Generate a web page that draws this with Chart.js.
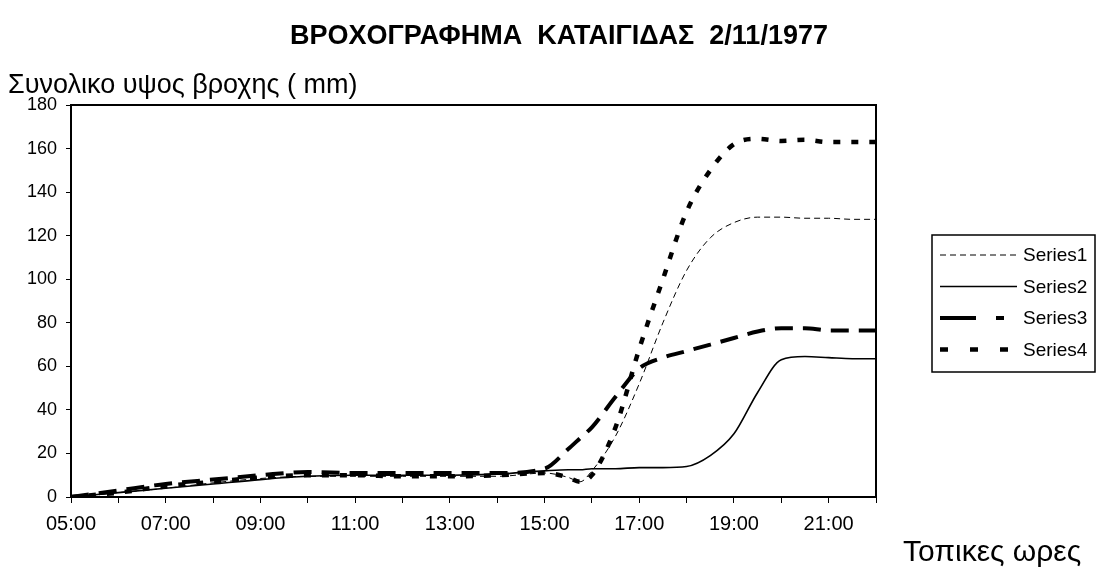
<!DOCTYPE html>
<html>
<head>
<meta charset="utf-8">
<script src="https://cdn.jsdelivr.net/npm/chart.js@4.4.0/dist/chart.umd.min.js"></script>
<style>
    body { margin: 0; background: #fff; }
    #wrap { width: 1097px; height: 574px; }
</style>
</head>
<body>
<div id="wrap"><canvas id="rain" width="1097" height="574"></canvas></div>
<script>
// time in hours (05:00 .. 22:00)
const hours = [5, 6, 7, 8, 9, 10, 11, 12, 13, 14, 15, 15.5, 15.75, 16, 16.5, 17, 17.5, 18, 18.5, 19, 19.5, 20, 20.5, 21, 21.5, 22];

const series1 = [0, 2, 4, 6.5, 8.5, 9.5, 9.5, 9.5, 9.5, 9.5, 11, 9, 7, 12, 28, 52, 80, 104, 119, 126, 128.5, 128.5, 128, 128, 127.5, 127.5];
const series2 = [0, 2, 4, 6, 8, 9.5, 10, 10, 10, 10.5, 12, 12.5, 12.5, 13, 13, 13.5, 13.5, 14, 19, 29, 48, 63, 64.5, 64, 63.5, 63.5];
const series3 = [0, 3, 6, 8, 10, 11.5, 11, 11, 11, 11, 13, 22, 27, 32, 46, 59, 64, 67, 70, 73, 76, 77.5, 77.5, 76.5, 76.5, 76.5];
const series4 = [0, 2, 5, 7, 9, 10, 10, 9.5, 9.5, 10, 11, 9, 7, 10, 32, 68, 100, 131, 150, 162, 164.5, 163.5, 164, 163, 163, 163];

const seriesNames = ['Series1', 'Series2', 'Series3', 'Series4'];
const yTicks = [0, 20, 40, 60, 80, 100, 120, 140, 160, 180];

const titleText = 'ΒΡΟΧΟΓΡΑΦΗΜΑ  ΚΑΤΑΙΓΙΔΑΣ  2/11/1977';
const yLabel = 'Συνολικο υψος βροχης ( mm)';
const xLabel = 'Τοπικες ωρες';

function pts(vals) {
    return hours.map((h, i) => ({x: h, y: vals[i]}));
}

function hh(v) {
    return (v < 10 ? '0' : '') + v + ':00';
}

const styles = [
    {width: 1, dash: [6, 4], legendDash: [6, 4]},
    {width: 1.6, dash: [], legendDash: []},
    {width: 4, dash: [18, 10], legendDash: [36, 20, 8, 40]},
    {width: 4.5, dash: [7, 11], legendDash: [8, 22]}
];

const allSeries = [series1, series2, series3, series4];
const datasets = allSeries.map((s, i) => ({
    label: seriesNames[i],
    data: pts(s),
    borderColor: '#000',
    borderWidth: styles[i].width,
    borderDash: styles[i].dash,
    pointRadius: 0,
    fill: false,
    cubicInterpolationMode: 'monotone'
}));

const FONT = '"Liberation Sans", Arial, sans-serif';

const extras = {
    id: 'extras',
    afterDraw(chart) {
        const ctx = chart.ctx;
        const a = chart.chartArea;
        ctx.save();
        // frame top + right
        ctx.strokeStyle = '#000';
        ctx.lineWidth = 2;
        ctx.setLineDash([]);
        ctx.beginPath();
        ctx.moveTo(a.left, a.top);
        ctx.lineTo(a.right, a.top);
        ctx.lineTo(a.right, a.bottom);
        ctx.stroke();

        ctx.fillStyle = '#000';
        ctx.font = 'bold 27px ' + FONT;
        ctx.textAlign = 'center';
        ctx.textBaseline = 'middle';
        ctx.fillText(titleText, 559, 37);

        ctx.font = '27px ' + FONT;
        ctx.textAlign = 'left';
        ctx.fillText(yLabel, 8, 86);
        ctx.font = '30px ' + FONT;
        ctx.fillText(xLabel, 903, 553);

        // legend
        ctx.lineWidth = 1.5;
        ctx.strokeRect(932, 235, 163, 137);
        ctx.font = '19px ' + FONT;
        for (let i = 0; i < 4; i++) {
            const y = 255 + i * 31.5;
            ctx.beginPath();
            ctx.lineWidth = styles[i].width;
            ctx.setLineDash(styles[i].legendDash);
            ctx.moveTo(940, y);
            ctx.lineTo(1017, y);
            ctx.stroke();
            ctx.setLineDash([]);
            ctx.fillText(seriesNames[i], 1023, y + 1);
        }
        ctx.restore();
    }
};

new Chart(document.getElementById('rain'), {
    type: 'line',
    data: {datasets: datasets},
    options: {
        responsive: false,
        animation: false,
        layout: {padding: {left: 0, top: 105, right: 221, bottom: 37}},
        plugins: {legend: {display: false}, tooltip: {enabled: false}},
        scales: {
            x: {
                type: 'linear',
                min: 5,
                max: 22,
                afterFit: s => { s.height = 40; },
                afterBuildTicks: s => { s.ticks = hours.filter(h => Number.isInteger(h)).map(h => ({value: h})); },
                grid: {drawOnChartArea: false, tickLength: 6, color: '#000'},
                border: {color: '#000', width: 2},
                ticks: {
                    autoSkip: false,
                    maxRotation: 0,
                    padding: 9,
                    color: '#000',
                    font: {family: FONT, size: 20},
                    callback: v => (v % 2 === 1 && v < 22) ? hh(v) : ''
                }
            },
            y: {
                min: 0,
                max: 180,
                afterFit: s => { s.width = 71; },
                afterBuildTicks: s => { s.ticks = yTicks.map(v => ({value: v})); },
                grid: {drawOnChartArea: false, tickLength: 5, color: '#000'},
                border: {color: '#000', width: 2},
                ticks: {
                    padding: 9,
                    color: '#000',
                    font: {family: FONT, size: 18}
                }
            }
        }
    },
    plugins: [extras]
});
</script>
</body>
</html>
